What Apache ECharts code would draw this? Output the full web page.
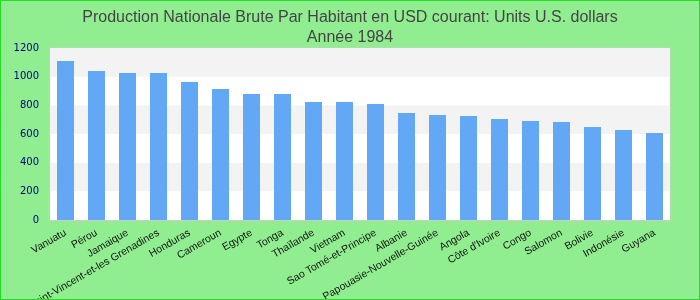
<!DOCTYPE html>
<html>
<head>
<meta charset="utf-8">
<script src="https://cdn.jsdelivr.net/npm/echarts@6/dist/echarts.min.js"></script>
<style>
html,body{margin:0;padding:0;background:#90ee90;}
#main{width:700px;height:300px;}
</style>
</head>
<body>
<div id="main"></div>
<script>
const titleLines = ['Production Nationale Brute Par Habitant en USD courant: Units U.S. dollars', 'Année 1984'];
const categories = ['Vanuatu','Pérou','Jamaique','Saint-Vincent-et-les Grenadines','Honduras','Cameroun','Egypte','Tonga','Thaïlande','Vietnam','Sao Tomé-et-Principe','Albanie','Papouasie-Nouvelle-Guinée','Angola',"Côte d'Ivoire",'Congo','Salomon','Bolivie','Indonésie','Guyana'];
const values = [1109,1040,1026,1026,963,914,879,879,823,823,809,747,733,726,705,691,684,649,628,607];
const yMin = 0, yMax = 1200, yStep = 200;

const chart = echarts.init(document.getElementById('main'), null, {renderer:'canvas'});
chart.setOption({
  backgroundColor: '#90ee90',
  animation: false,
  title: {
    text: titleLines.join('\n'),
    left: 'center',
    top: 3,
    textStyle: {fontFamily: 'Liberation Sans', fontSize: 16, fontWeight: 'normal', color: '#444444', lineHeight: 20}
  },
  graphic: [{
    type: 'rect', silent: true, z: 100,
    shape: {x: 0, y: 0, width: 700, height: 300},
    style: {fill: 'none', stroke: '#22dd22', lineWidth: 2}
  }],
  grid: {left: 50, right: 30, top: 48, bottom: 80, containLabel: false, outerBoundsMode: 'none', show: true, borderColor: '#cccccc', borderWidth: 1, backgroundColor: '#ffffff'},
  xAxis: {
    type: 'category',
    data: categories,
    axisTick: {show: false},
    axisLine: {show: true, lineStyle: {color: '#cccccc'}},
    axisLabel: {rotate: 30, interval: 0, margin: 12, fontFamily: 'Liberation Sans', fontSize: 10.5, color: '#111111'}
  },
  yAxis: {
    type: 'value',
    min: yMin, max: yMax, interval: yStep,
    axisLine: {show: false},
    axisTick: {show: false},
    splitLine: {show: false},
    splitArea: {show: true, areaStyle: {color: ['#ffffff', '#f3f3f3']}},
    axisLabel: {margin: 11, fontFamily: 'DejaVu Sans', fontSize: 10, color: '#000080', formatter: function (v) { return String(v); }}
  },
  series: [{
    type: 'bar',
    data: values,
    barWidth: 17,
    itemStyle: {color: '#62a8f5'}
  }]
});
</script>
</body>
</html>
